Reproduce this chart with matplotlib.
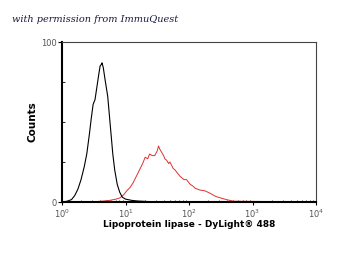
import matplotlib
matplotlib.use("Agg")
import matplotlib.pyplot as plt
import numpy as np
from matplotlib.ticker import LogLocator, NullFormatter, FixedLocator

# log10 intensity positions and counts
black_log = [0.0, 0.05, 0.08, 0.15, 0.2, 0.25, 0.3, 0.35, 0.39, 0.43, 0.46, 0.49, 0.52,
             0.55, 0.58, 0.6, 0.62, 0.63, 0.65, 0.68, 0.72, 0.76, 0.8, 0.83, 0.87,
             0.91, 0.95, 1.0, 1.1, 1.2, 1.35, 1.5, 4.0]
black_cnt = [0, 0.3, 0.5, 1.5, 4, 8, 14, 22, 30, 42, 52, 61, 64,
             72, 80, 85, 86, 87, 84, 76, 66, 48, 30, 20, 11,
             6, 3, 1.8, 1.0, 0.6, 0.3, 0.1, 0]

red_log = [0.0, 0.45, 0.55, 0.65, 0.75, 0.85, 0.91, 0.97, 1.02, 1.07, 1.12, 1.17,
           1.22, 1.27, 1.31, 1.35, 1.38, 1.42, 1.46, 1.5, 1.52, 1.54, 1.57, 1.6,
           1.62, 1.65, 1.68, 1.7, 1.75, 1.78, 1.8, 1.86, 1.92, 1.96, 2.02, 2.06,
           2.1, 2.17, 2.25, 2.33, 2.42, 2.5, 2.59, 2.7, 4.0]
red_cnt = [0, 0, 0.3, 0.6, 1.0, 1.8, 2.5, 4.5, 7, 9, 12, 16,
           20, 24, 28, 27, 30, 29, 29, 32, 35, 33, 31, 29,
           27, 26, 24, 25, 21, 20, 19, 16, 14, 14, 11, 10,
           8.5, 7.5, 7, 5.5, 3.5, 2.5, 1.5, 0.5, 0]

fig = plt.figure(figsize=(3.5, 2.7), dpi=100)
ax = fig.add_axes([62/350, 68/270, 254/350, 160/270])

bx = [10**v for v in black_log]
rx = [10**v for v in red_log]
ax.plot(rx, red_cnt, color="#e03030", lw=0.7)
ax.plot(bx, black_cnt, color="black", lw=0.8)

ax.set_xscale("log")
ax.set_xlim(1, 1e4)
ax.set_ylim(0, 100)

ax.set_yticks([0, 100])
ax.set_yticklabels(["0", "100"])
ax.yaxis.set_minor_locator(FixedLocator([25, 50, 75]))
ax.tick_params(axis="y", which="major", direction="out", length=3, width=0.8,
               labelsize=6, labelcolor="#555555", pad=1)
ax.tick_params(axis="y", which="minor", direction="in", length=2, width=0.6)

ax.set_xticks([1, 10, 100, 1000, 10000])
ax.set_xticklabels([r"$10^{0}$", r"$10^{1}$", r"$10^{2}$", r"$10^{3}$", r"$10^{4}$"])
ax.xaxis.set_minor_locator(LogLocator(base=10, subs=np.arange(2, 10)))
ax.xaxis.set_minor_formatter(NullFormatter())
ax.tick_params(axis="x", which="major", direction="out", length=2, width=0.8,
               labelsize=6, labelcolor="#555555", pad=2)
ax.tick_params(axis="x", which="minor", direction="in", length=1.5, width=0.5)

for s in ["left", "bottom"]:
    ax.spines[s].set_linewidth(1.5)
    ax.spines[s].set_color("black")
for s in ["top", "right"]:
    ax.spines[s].set_linewidth(0.8)
    ax.spines[s].set_color("#444444")

ax.set_ylabel("Counts", fontsize=7.5, fontweight="bold", labelpad=2)
ax.set_xlabel("Lipoprotein lipase - DyLight\u00ae 488", fontsize=6.5,
              fontweight="bold", labelpad=0)

fig.text(12/350, 1 - 19/270, "with permission from ImmuQuest", fontsize=7,
         family="DejaVu Serif", style="italic", color="#1a1a40", va="center")

fig.savefig("out.png", dpi=100, facecolor="white")
